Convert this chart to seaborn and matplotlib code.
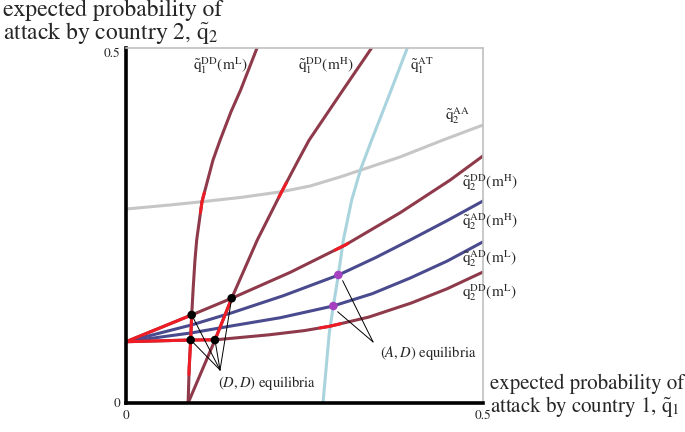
import matplotlib
matplotlib.use("Agg")
import matplotlib.pyplot as plt
import numpy as np
import pandas as pd
import seaborn as sns

# values (q1 on x, q2 on y)
q1_dd_mL_x = [0.087, 0.0885, 0.0906, 0.092, 0.094, 0.0965, 0.099, 0.1064, 0.1218, 0.1317, 0.147, 0.1606, 0.1835]
q1_dd_mL_y = [0.0, 0.05, 0.0887, 0.124, 0.16, 0.2, 0.2296, 0.2835, 0.342, 0.370, 0.41, 0.441, 0.5]

q1_dd_mH_x = [0.087, 0.1246, 0.148, 0.1839, 0.218, 0.2413, 0.2563, 0.304, 0.344]
q1_dd_mH_y = [0.0, 0.0887, 0.1475, 0.2296, 0.2976, 0.342, 0.370, 0.441, 0.5]

q1_at_x = [0.2759, 0.2847, 0.2904, 0.2974, 0.3044, 0.3161, 0.3289, 0.3441, 0.368, 0.394]
q1_at_y = [0.0, 0.0986, 0.1366, 0.1803, 0.2296, 0.2859, 0.33, 0.3704, 0.432, 0.5]

q2_aa_x = [0.0, 0.0616, 0.1064, 0.1597, 0.218, 0.2577, 0.2997, 0.3838, 0.444, 0.5]
q2_aa_y = [0.2732, 0.2789, 0.2835, 0.2894, 0.2976, 0.3056, 0.3183, 0.3465, 0.3704, 0.3915]

q2_dd_mH_x = [0.0, 0.092, 0.148, 0.23, 0.307, 0.384, 0.454, 0.5]
q2_dd_mH_y = [0.0863, 0.124, 0.1475, 0.184, 0.2225, 0.268, 0.314, 0.348]

q2_ad_mH_x = [0.0, 0.092, 0.148, 0.22, 0.297, 0.35, 0.398, 0.45, 0.5]
q2_ad_mH_y = [0.0863, 0.110, 0.127, 0.151, 0.180, 0.205, 0.2296, 0.257, 0.2845]

q2_ad_mL_x = [0.0, 0.092, 0.148, 0.216, 0.29, 0.345, 0.398, 0.45, 0.5]
q2_ad_mL_y = [0.0863, 0.0988, 0.1086, 0.1201, 0.1366, 0.154, 0.176, 0.2, 0.227]

q2_dd_mL_x = [0.0, 0.09, 0.125, 0.2, 0.25, 0.285, 0.34, 0.4, 0.45, 0.5]
q2_dd_mL_y = [0.0863, 0.0887, 0.089, 0.096, 0.102, 0.108, 0.121, 0.141, 0.161, 0.1845]

dd_eq_x = [0.0906, 0.1246, 0.092, 0.148]
dd_eq_y = [0.0887, 0.0887, 0.124, 0.1475]
ad_eq_x = [0.2974, 0.2904]
ad_eq_y = [0.1803, 0.1366]

DARK_RED = "#8e3a4a"
BLUE = "#4a4a8e"
LIGHT_BLUE = "#a9d4dd"
GRAY = "#c6c6c6"
RED = "#ee1c25"
PURPLE = "#a540c0"

sns.set_style("white")
plt.rcParams["font.family"] = ["STIXGeneral", "DejaVu Serif"]
plt.rcParams["mathtext.fontset"] = "stix"

fig = plt.figure(figsize=(6.85, 4.32), dpi=100)
ax = fig.add_axes([126 / 685, 1 - 403 / 432, 357 / 685, 355 / 432])


def curve(x, y, color, lw=2.2):
    df = pd.DataFrame({"q1": x, "q2": y})
    sns.lineplot(data=df, x="q1", y="q2", sort=False, estimator=None,
                 color=color, lw=lw, ax=ax, zorder=2)


curve(q2_aa_x, q2_aa_y, GRAY)
curve(q1_at_x, q1_at_y, LIGHT_BLUE)
curve(q1_dd_mL_x, q1_dd_mL_y, DARK_RED)
curve(q1_dd_mH_x, q1_dd_mH_y, DARK_RED)
curve(q2_dd_mH_x, q2_dd_mH_y, DARK_RED)
curve(q2_ad_mH_x, q2_ad_mH_y, BLUE)
curve(q2_ad_mL_x, q2_ad_mL_y, BLUE)
curve(q2_dd_mL_x, q2_dd_mL_y, DARK_RED)


# bright red highlighted stretches of the best-response curves
def highlight_x(xs, ys, lo, hi):
    t = np.linspace(lo, hi, 12)
    curve(t, np.interp(t, xs, ys), RED)


def highlight_y(xs, ys, lo, hi):
    t = np.linspace(lo, hi, 12)
    curve(np.interp(t, ys, xs), t, RED)


highlight_x(q2_dd_mH_x, q2_dd_mH_y, 0.0, 0.092)
highlight_x(q2_dd_mL_x, q2_dd_mL_y, 0.0, 0.125)
highlight_y(q1_dd_mL_x, q1_dd_mL_y, 0.04, 0.124)
highlight_y(q1_dd_mH_x, q1_dd_mH_y, 0.0887, 0.1475)
highlight_y(q1_dd_mL_x, q1_dd_mL_y, 0.268, 0.296)
highlight_y(q1_dd_mH_x, q1_dd_mH_y, 0.29, 0.31)
highlight_x(q2_dd_mH_x, q2_dd_mH_y, 0.293, 0.311)
highlight_x(q2_dd_mL_x, q2_dd_mL_y, 0.272, 0.30)

# pointer lines to the equilibria
for x, y in zip(dd_eq_x, dd_eq_y):
    ax.plot([x, 0.1317], [y, 0.0465], color="black", lw=0.7, zorder=3)
for x, y in zip(ad_eq_x, ad_eq_y):
    ax.plot([x + 0.006, 0.346], [y - 0.008, 0.086], color="black", lw=0.7, zorder=3)

sns.scatterplot(x=dd_eq_x, y=dd_eq_y, color="black", s=38, edgecolor="none", ax=ax, zorder=4)
sns.scatterplot(x=ad_eq_x, y=ad_eq_y, color=PURPLE, s=38, edgecolor="none", ax=ax, zorder=4)

ax.set_xlim(0, 0.5)
ax.set_ylim(0, 0.5)
ax.set_xlabel("")
ax.set_ylabel("")
ax.set_xticks([0, 0.5], ["0", "0.5"])
ax.set_yticks([0, 0.5], ["0", "0.5"])
ax.tick_params(length=0, labelsize=9.5)
ax.tick_params(axis="x", pad=5)
ax.tick_params(axis="y", pad=4)
ax.get_yticklabels()[1].set_va("top")
for side in ["left", "bottom"]:
    ax.spines[side].set_color("black")
    ax.spines[side].set_linewidth(2.6)
for side in ["top", "right"]:
    ax.spines[side].set_color("#c0c0c0")
    ax.spines[side].set_linewidth(1.2)

lab = dict(fontsize=11, va="center", ha="left", clip_on=False)
ax.text(0.094, 0.475, r"$\tilde{\mathrm{q}}_1^{\mathrm{DD}}(\mathrm{m}^{\mathrm{L}})$", **lab)
ax.text(0.241, 0.475, r"$\tilde{\mathrm{q}}_1^{\mathrm{DD}}(\mathrm{m}^{\mathrm{H}})$", **lab)
ax.text(0.398, 0.475, r"$\tilde{\mathrm{q}}_1^{\mathrm{AT}}$", **lab)
ax.text(0.447, 0.405, r"$\tilde{\mathrm{q}}_2^{\mathrm{AA}}$", **lab)
ax.text(0.4706, 0.31, r"$\tilde{\mathrm{q}}_2^{\mathrm{DD}}(\mathrm{m}^{\mathrm{H}})$", **lab)
ax.text(0.4706, 0.255, r"$\tilde{\mathrm{q}}_2^{\mathrm{AD}}(\mathrm{m}^{\mathrm{H}})$", **lab)
ax.text(0.4706, 0.204, r"$\tilde{\mathrm{q}}_2^{\mathrm{AD}}(\mathrm{m}^{\mathrm{L}})$", **lab)
ax.text(0.4706, 0.155, r"$\mathrm{q}_2^{\mathrm{DD}}(\mathrm{m}^{\mathrm{L}})$", **lab)

ax.text(0.129, 0.028, r"$(D,D)$ equilibria", fontsize=10.5, va="center", ha="left")
ax.text(0.356, 0.070, r"$(A,D)$ equilibria", fontsize=10.5, va="center", ha="left")

fig.text(3 / 685, 1 - 0 / 432,
         "expected probability of\nattack by country 2, $\\tilde{\\mathrm{q}}_2$",
         fontsize=17, ha="left", va="top", linespacing=0.95)
fig.text(490 / 685, 1 - 374 / 432,
         "expected probability of\nattack by country 1, $\\tilde{\\mathrm{q}}_1$",
         fontsize=15, ha="left", va="top", linespacing=1.0)

fig.savefig("out.png", dpi=100)
